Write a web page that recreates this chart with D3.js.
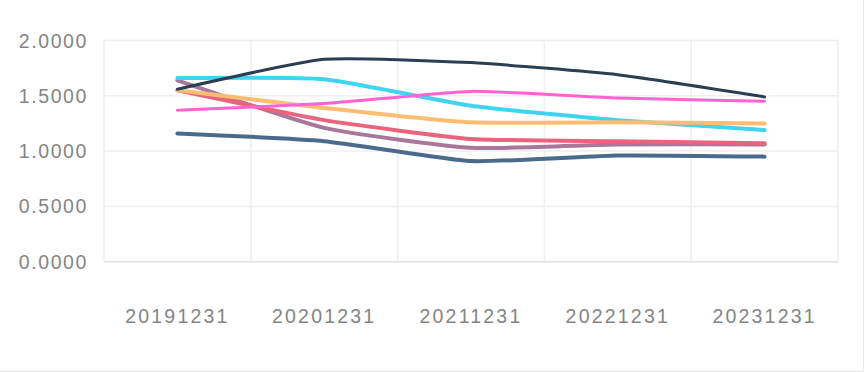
<!DOCTYPE html>
<html>
<head>
<meta charset="utf-8">
<script src="https://cdn.jsdelivr.net/npm/d3@7"></script>
<style>
  html, body { margin: 0; padding: 0; background: #fff; }
  svg { display: block; }
  .tick-y, .tick-x { font-family: "Liberation Sans", Arial, sans-serif; fill: #858585; font-size: 19.5px; }
</style>
</head>
<body>
<svg width="864" height="372"></svg>
<script>
const categories = ['20191231', '20201231', '20211231', '20221231', '20231231'];
const yTicks = [0, 0.5, 1.0, 1.5, 2.0];

// drawn in this order, last on top
const steel  = [1.16, 1.09, 0.91, 0.96, 0.95];
const mauve  = [1.64, 1.21, 1.03, 1.06, 1.06];
const cyan   = [1.66, 1.65, 1.41, 1.28, 1.19];
const red    = [1.55, 1.28, 1.11, 1.09, 1.07];
const orange = [1.55, 1.39, 1.26, 1.26, 1.25];
const pink   = [1.37, 1.43, 1.54, 1.48, 1.45];
const navy   = [1.56, 1.83, 1.80, 1.69, 1.49];

const series = [
  { values: steel,  color: '#4b6b8b', w: 4 },
  { values: mauve,  color: '#a8779a', w: 4 },
  { values: cyan,   color: '#40d4f0', w: 4 },
  { values: red,    color: '#e9647c', w: 4 },
  { values: orange, color: '#ffbd72', w: 4 },
  { values: pink,   color: '#ff63d2', w: 3 },
  { values: navy,   color: '#2b3e52', w: 3 }
];

const plotLeft = 104, plotRight = 838, plotTop = 40.5, plotBottom = 261.7;

const svg = d3.select('svg');

const x = d3.scaleBand().domain(categories).range([plotLeft, plotRight]);
const y = d3.scaleLinear().domain([0, 2]).range([plotBottom, plotTop]);

// outer frame (right + bottom edge)
svg.append('path')
  .attr('d', 'M863.5,0 V371.5 H0')
  .attr('fill', 'none')
  .attr('stroke', '#e6e6e6');

// horizontal grid
svg.append('g')
  .selectAll('line')
  .data(yTicks)
  .enter()
  .append('line')
  .attr('x1', plotLeft).attr('x2', plotRight)
  .attr('y1', d => y(d)).attr('y2', d => y(d))
  .attr('stroke', d => d === 0 ? '#e2e2e2' : '#efefef')
  .attr('stroke-width', 1.5);

// vertical grid on band edges
const edges = categories.map(c => x(c)).concat([x(categories[categories.length - 1]) + x.bandwidth()]);
svg.append('g')
  .selectAll('line')
  .data(edges)
  .enter()
  .append('line')
  .attr('x1', d => d).attr('x2', d => d)
  .attr('y1', plotTop).attr('y2', plotBottom)
  .attr('stroke', '#efefef')
  .attr('stroke-width', 1.5);

// y labels
svg.append('g')
  .selectAll('text')
  .data(yTicks)
  .enter()
  .append('text')
  .attr('class', 'tick-y')
  .attr('x', 88)
  .attr('y', d => y(d))
  .attr('dy', '0.36em')
  .attr('text-anchor', 'end')
  .attr('letter-spacing', 1.6)
  .text(d => d.toFixed(4));

// x labels
svg.append('g')
  .selectAll('text')
  .data(categories)
  .enter()
  .append('text')
  .attr('class', 'tick-x')
  .attr('x', d => x(d) + x.bandwidth() / 2)
  .attr('y', 316)
  .attr('dy', '0.36em')
  .attr('text-anchor', 'middle')
  .attr('letter-spacing', 2.2)
  .text(d => d);

const line = d3.line()
  .x((d, i) => x(categories[i]) + x.bandwidth() / 2)
  .y(d => y(d))
  .curve(d3.curveCardinal.tension(0.5));

svg.append('g')
  .selectAll('path')
  .data(series)
  .enter()
  .append('path')
  .attr('d', s => line(s.values))
  .attr('fill', 'none')
  .attr('stroke', s => s.color)
  .attr('stroke-width', s => s.w)
  .attr('stroke-linecap', 'round')
  .attr('stroke-linejoin', 'round');
</script>
</body>
</html>
